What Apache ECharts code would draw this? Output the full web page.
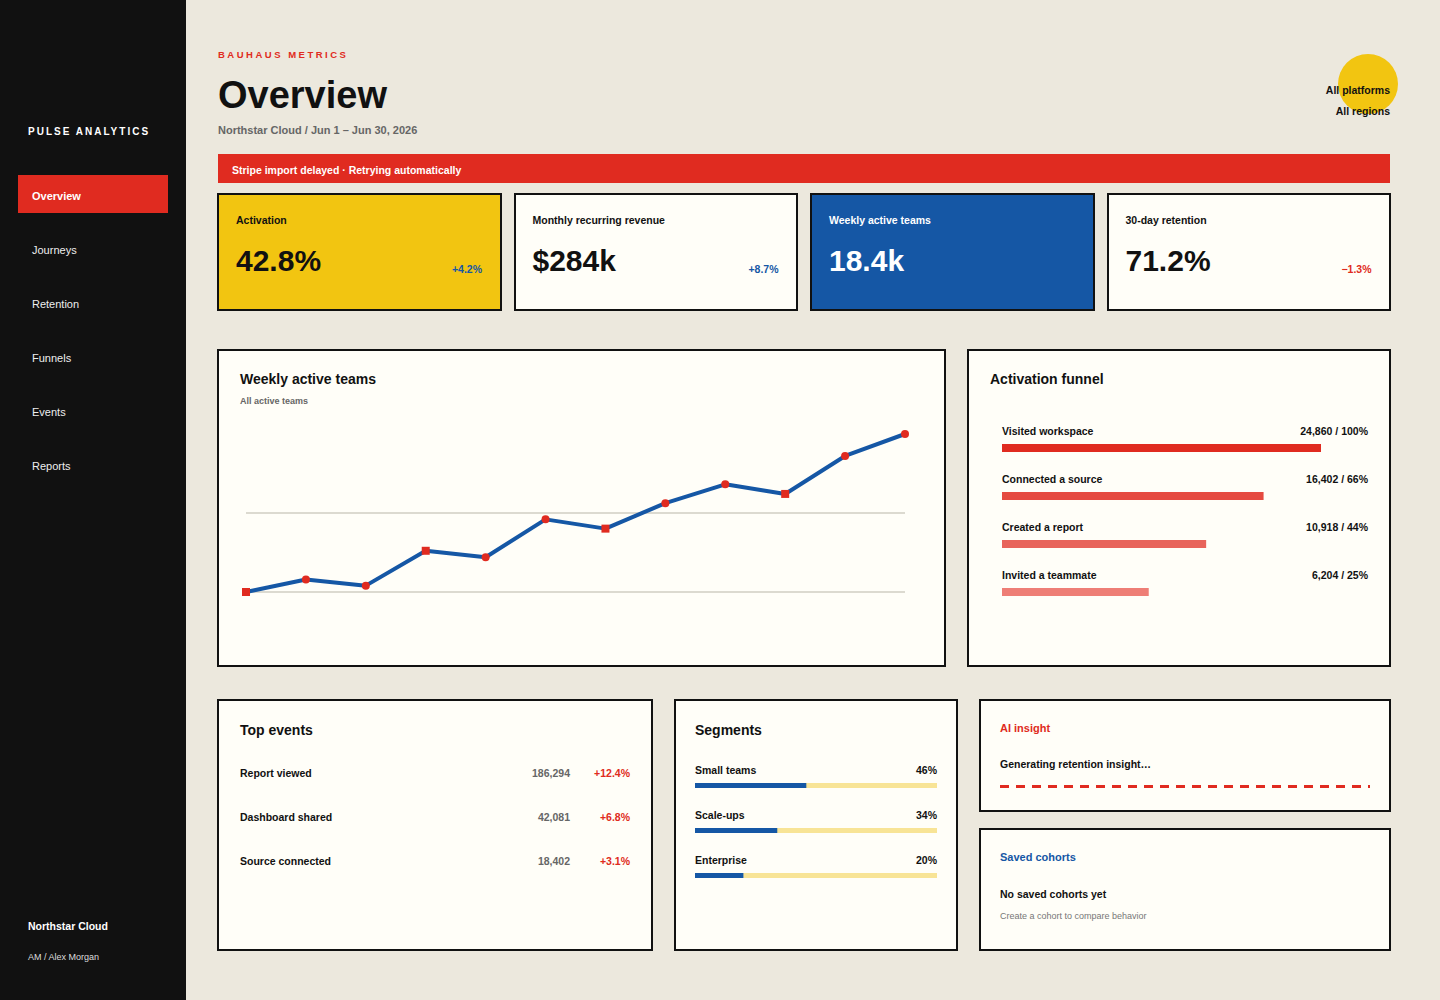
<!DOCTYPE html>
<html>
<head>
<meta charset="utf-8">
<title>Overview</title>
<script src="https://cdn.jsdelivr.net/npm/echarts@6/dist/echarts.min.js"></script>
<style>
  html, body { margin: 0; padding: 0; background: #ece8dd; }
  body { position: relative; width: 1440px; height: 1000px; overflow: hidden; font-family: "Liberation Sans", Arial, sans-serif; color: #111; }
  .box { position: absolute; box-sizing: border-box; }
  .card { position: absolute; box-sizing: border-box; border: 2px solid #111; background: #fffef8; }
  .t { position: absolute; white-space: nowrap; line-height: 20px; height: 20px; font-size: 10.5px; font-weight: 700; }
  .r { text-align: right; }
  .h { font-size: 14px; }
  .chart { position: absolute; }
</style>
</head>
<body>
<div class="box" style="left:0;top:0;width:186px;height:1000px;background:#111"></div>
<div class="box" style="left:18px;top:175px;width:150px;height:38px;background:#e02b20"></div>
<div class="box" style="left:218px;top:154px;width:1172px;height:29px;background:#e02b20"></div>
<div class="box" style="left:1338px;top:54px;width:60px;height:60px;border-radius:50%;background:#f2c511"></div>
<div id="cards"></div>
<div class="box" style="left:1000px;top:785px;width:370px;height:3px;background:repeating-linear-gradient(90deg,#e02b20 0,#e02b20 9px,transparent 9px,transparent 16px)"></div>
<div id="texts"></div>
<div class="chart" id="lineChart" style="left:219px;top:351px;width:725px;height:314px"></div>
<div class="chart" id="funnelChart" style="left:969px;top:351px;width:420px;height:314px"></div>
<div class="chart" id="segmentChart" style="left:676px;top:701px;width:280px;height:248px"></div>
<script>
var navItems = ['Overview', 'Journeys', 'Retention', 'Funnels', 'Events', 'Reports'];
var kpiNames = ['Activation', 'Monthly recurring revenue', 'Weekly active teams', '30-day retention'];
var kpiValues = ['42.8%', '$284k', '18.4k', '71.2%'];
var kpiDeltas = ['+4.2%', '+8.7%', '', '\u22121.3%'];

var weeks = ['W1', 'W2', 'W3', 'W4', 'W5', 'W6', 'W7', 'W8', 'W9', 'W10', 'W11', 'W12'];
var teams = [9200, 9930, 9570, 11600, 11220, 13430, 12890, 14370, 15470, 14910, 17120, 18400];

var funnelSteps = ['Visited workspace', 'Connected a source', 'Created a report', 'Invited a teammate'];
var funnelLabels = ['24,860 / 100%', '16,402 / 66%', '10,918 / 44%', '6,204 / 25%'];
var funnelBars = [100, 82, 64, 46];
var funnelColors = ['#e02b20', '#e54a40', '#e8645b', '#ee7e76'];

var eventNames = ['Report viewed', 'Dashboard shared', 'Source connected'];
var eventCounts = ['186,294', '42,081', '18,402'];
var eventDeltas = ['+12.4%', '+6.8%', '+3.1%'];

var segmentNames = ['Small teams', 'Scale-ups', 'Enterprise'];
var segmentShares = [46, 34, 20];

var RED = '#e02b20', BLUE = '#1557a5', INK = '#111', GREY = '#666';

// cards
var cardBoxes = [
  [217, 193, 285, 118, '#f2c511'], [514, 193, 284, 118, '#fffef8'], [810, 193, 285, 118, BLUE], [1107, 193, 284, 118, '#fffef8'],
  [217, 349, 729, 318, '#fffef8'], [967, 349, 424, 318, '#fffef8'],
  [217, 699, 436, 252, '#fffef8'], [674, 699, 284, 252, '#fffef8'],
  [979, 699, 412, 113, '#fffef8'], [979, 828, 412, 123, '#fffef8']
];
var html = '';
cardBoxes.forEach(function (b) {
  html += '<div class="card" style="left:' + b[0] + 'px;top:' + b[1] + 'px;width:' + b[2] + 'px;height:' + b[3] + 'px;background:' + b[4] + '"></div>';
});
document.getElementById('cards').innerHTML = html;

// text helper, y = vertical middle of the line
var out = '';
function put(text, x, y, style, right) {
  var pos = right ? 'right:' + (1440 - x) + 'px' : 'left:' + x + 'px';
  out += '<div class="t' + (right ? ' r' : '') + '" style="' + pos + ';top:' + (y - 10) + 'px;' + (style || '') + '">' + text + '</div>';
}

put('PULSE ANALYTICS', 28, 132, 'color:#fff;font-size:10px;letter-spacing:2px');
navItems.forEach(function (n, i) {
  put(n, 32, 196 + i * 54, i === 0 ? 'color:#fff;font-size:11px' : 'color:#eee;font-size:11px;font-weight:400');
});
put('Northstar Cloud', 28, 926, 'color:#fff;font-size:10.5px');
put('AM / Alex Morgan', 28, 957, 'color:#ddd;font-size:9px;font-weight:400');

put('BAUHAUS METRICS', 218, 55, 'color:' + RED + ';font-size:9.5px;letter-spacing:2.5px');
put('Overview', 218, 95, 'font-size:38px;line-height:20px');
put('Northstar Cloud / Jun 1 \u2013 Jun 30, 2026', 218, 130, 'color:' + GREY + ';font-size:11px');
put('All platforms', 1390, 90, 'font-size:10.5px', true);
put('All regions', 1390, 111, 'font-size:10.5px', true);
put('Stripe import delayed \u00b7 Retrying automatically', 232, 169.5, 'color:#fff;font-size:10.5px');

var kpiX = [236, 532.5, 829, 1125.5];
var kpiRight = [482, 778.5, 1075, 1371.5];
var deltaColors = [BLUE, BLUE, BLUE, RED];
kpiNames.forEach(function (n, i) {
  var c = i === 2 ? '#fff' : INK;
  put(n, kpiX[i], 219.5, 'color:' + c);
  put(kpiValues[i], kpiX[i], 261, 'color:' + c + ';font-size:30px');
  if (kpiDeltas[i]) put(kpiDeltas[i], kpiRight[i], 268.5, 'color:' + deltaColors[i], true);
});

put('Weekly active teams', 240, 379, '', false);
out = out.replace(/(top:369px;)"/, '$1font-size:14px"');
put('All active teams', 240, 401, 'color:' + GREY + ';font-size:9px');
put('Activation funnel', 990, 379, 'font-size:14px');
funnelSteps.forEach(function (n, i) {
  put(n, 1002, 430.5 + i * 48, '');
  put(funnelLabels[i], 1368, 430.5 + i * 48, '', true);
});

put('Top events', 240, 729.5, 'font-size:14px');
eventNames.forEach(function (n, i) {
  put(n, 240, 772.5 + i * 44, '');
  put(eventCounts[i], 570, 772.5 + i * 44, 'color:' + GREY, true);
  put(eventDeltas[i], 630, 772.5 + i * 44, 'color:' + RED, true);
});

put('Segments', 695, 729.5, 'font-size:14px');
segmentNames.forEach(function (n, i) {
  put(n, 695, 769.5 + i * 45, '');
  put(segmentShares[i] + '%', 937, 769.5 + i * 45, '', true);
});

put('AI insight', 1000, 728, 'color:' + RED + ';font-size:11px');
put('Generating retention insight\u2026', 1000, 763.5, '');
put('Saved cohorts', 1000, 857, 'color:' + BLUE + ';font-size:11px');
put('No saved cohorts yet', 1000, 893.5, '');
put('Create a cohort to compare behavior', 1000, 916, 'color:#777;font-size:9px;font-weight:400');
document.getElementById('texts').innerHTML = out;

// weekly active teams line
var lineChart = echarts.init(document.getElementById('lineChart'));
lineChart.setOption({
  animation: false,
  grid: { left: 27, right: 39, top: 83, bottom: 73 },
  xAxis: {
    type: 'category',
    data: weeks,
    boundaryGap: false,
    axisLine: { show: false },
    axisTick: { show: false },
    axisLabel: { show: false }
  },
  yAxis: {
    type: 'value',
    min: 9200,
    max: 18400,
    interval: 4600,
    axisLabel: { show: false },
    splitLine: { showMaxLine: false, lineStyle: { color: '#dcdad0', width: 2 } }
  },
  series: [{
    type: 'line',
    data: teams,
    clip: false,
    lineStyle: { color: BLUE, width: 4 },
    itemStyle: { color: RED },
    symbol: function (value, params) {
      return params.dataIndex % 3 === 0 ? 'rect' : 'circle';
    },
    symbolSize: 8,
    showAllSymbol: true
  }]
});

// activation funnel bars
var funnelChart = echarts.init(document.getElementById('funnelChart'));
funnelChart.setOption({
  animation: false,
  grid: { left: 33, top: 73, width: 319, height: 192 },
  xAxis: { type: 'value', min: 0, max: 100, show: false },
  yAxis: { type: 'category', inverse: true, data: funnelSteps, show: false },
  series: [{
    type: 'bar',
    barWidth: 8,
    data: funnelBars.map(function (v, i) {
      return { value: v, itemStyle: { color: funnelColors[i] } };
    })
  }]
});

// segment share bars
var segmentChart = echarts.init(document.getElementById('segmentChart'));
segmentChart.setOption({
  animation: false,
  grid: { left: 19, top: 62, width: 242, height: 135 },
  xAxis: { type: 'value', min: 0, max: 100, show: false },
  yAxis: { type: 'category', inverse: true, data: segmentNames, show: false },
  series: [{
    type: 'bar',
    barWidth: 5,
    data: segmentShares,
    itemStyle: { color: BLUE },
    showBackground: true,
    backgroundStyle: { color: '#f8e496' }
  }]
});
</script>
</body>
</html>
